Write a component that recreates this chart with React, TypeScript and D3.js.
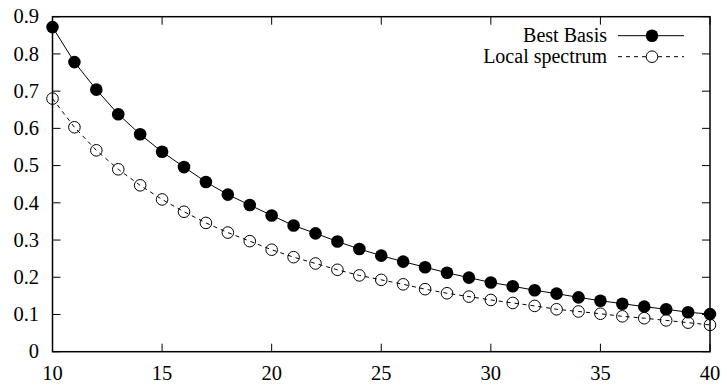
import React, { useRef, useEffect } from 'react';
import * as d3 from 'd3';

const xValues = [10, 11, 12, 13, 14, 15, 16, 17, 18, 19, 20, 21, 22, 23, 24, 25, 26, 27, 28, 29, 30, 31, 32, 33, 34, 35, 36, 37, 38, 39, 40];
const bestBasis = [0.872, 0.778, 0.704, 0.638, 0.584, 0.537, 0.496, 0.456, 0.422, 0.394, 0.366, 0.339, 0.318, 0.296, 0.276, 0.258, 0.242, 0.227, 0.212, 0.199, 0.186, 0.176, 0.165, 0.156, 0.146, 0.137, 0.129, 0.121, 0.114, 0.106, 0.101];
const localSpectrum = [0.680, 0.603, 0.541, 0.490, 0.447, 0.409, 0.376, 0.346, 0.320, 0.297, 0.274, 0.254, 0.237, 0.220, 0.205, 0.193, 0.181, 0.168, 0.157, 0.148, 0.139, 0.131, 0.123, 0.114, 0.108, 0.102, 0.095, 0.090, 0.084, 0.078, 0.072];
const xTicks = [10, 15, 20, 25, 30, 35, 40];
const yTicks = [0, 0.1, 0.2, 0.3, 0.4, 0.5, 0.6, 0.7, 0.8, 0.9];
const seriesNames = ['Best Basis', 'Local spectrum'];

const FONT = "'Liberation Serif', 'Times New Roman', serif";

const App: React.FC = () => {
    const svgRef = useRef<SVGSVGElement | null>(null);
    const width = 722;
    const height = 385;
    const margin = { top: 16.7, right: 12, bottom: 33.3, left: 52.5 };

    useEffect(() => {
        if (!svgRef.current) return;
        const svg = d3.select(svgRef.current);
        svg.selectAll('*').remove();

        const x = d3.scaleLinear().domain([10, 40]).range([margin.left, width - margin.right]);
        const y = d3.scaleLinear().domain([0, 0.9]).range([height - margin.bottom, margin.top]);
        const tick = 8;

        svg.append('rect').attr('width', width).attr('height', height).attr('fill', 'white');

        // ticks on all four sides, pointing inwards (gnuplot style)
        const tickG = svg.append('g').attr('stroke', 'black').attr('stroke-width', 1);
        xTicks.forEach(t => {
            tickG.append('line').attr('x1', x(t)).attr('x2', x(t)).attr('y1', y(0)).attr('y2', y(0) - tick);
            tickG.append('line').attr('x1', x(t)).attr('x2', x(t)).attr('y1', y(0.9)).attr('y2', y(0.9) + tick);
        });
        yTicks.forEach(t => {
            tickG.append('line').attr('x1', x(10)).attr('x2', x(10) + tick).attr('y1', y(t)).attr('y2', y(t));
            tickG.append('line').attr('x1', x(40)).attr('x2', x(40) - tick).attr('y1', y(t)).attr('y2', y(t));
        });

        // tick labels
        svg.append('g').selectAll('text').data(xTicks).join('text')
            .attr('x', d => x(d)).attr('y', height - 5)
            .attr('text-anchor', 'middle')
            .style('font-family', FONT).style('font-size', '20.5px')
            .text(d => d);
        svg.append('g').selectAll('text').data(yTicks).join('text')
            .attr('x', margin.left - 13.5).attr('y', d => y(d))
            .attr('dy', '0.33em')
            .attr('text-anchor', 'end')
            .style('font-family', FONT).style('font-size', '20.5px')
            .text(d => d === 0 ? '0' : d3.format('.1f')(d));

        const line = d3.line<number>().x((_, i) => x(xValues[i])).y(d => y(d));

        // Local spectrum: dashed line, open circles
        svg.append('path').datum(localSpectrum)
            .attr('d', line).attr('fill', 'none')
            .attr('stroke', 'black').attr('stroke-width', 1)
            .attr('stroke-dasharray', '4,4');
        svg.append('g').selectAll('circle').data(localSpectrum).join('circle')
            .attr('cx', (_, i) => x(xValues[i])).attr('cy', d => y(d))
            .attr('r', 5.8).attr('fill', 'none')
            .attr('stroke', 'black').attr('stroke-width', 1);

        // Best Basis: solid line, filled circles
        svg.append('path').datum(bestBasis)
            .attr('d', line).attr('fill', 'none')
            .attr('stroke', 'black').attr('stroke-width', 1);
        svg.append('g').selectAll('circle').data(bestBasis).join('circle')
            .attr('cx', (_, i) => x(xValues[i])).attr('cy', d => y(d))
            .attr('r', 6.3).attr('fill', 'black');

        // frame
        svg.append('rect')
            .attr('x', x(10)).attr('y', y(0.9))
            .attr('width', x(40) - x(10)).attr('height', y(0) - y(0.9))
            .attr('fill', 'none').attr('stroke', 'black').attr('stroke-width', 1.5);

        // legend
        const legend = svg.append('g');
        const rows = [35.7, 56.7];
        seriesNames.forEach((name, i) => {
            const ly = rows[i];
            legend.append('text')
                .attr('x', 607).attr('y', ly).attr('dy', '0.33em')
                .attr('text-anchor', 'end')
                .style('font-family', FONT).style('font-size', '20px')
                .text(name);
            legend.append('line')
                .attr('x1', 618).attr('x2', 684).attr('y1', ly).attr('y2', ly)
                .attr('stroke', 'black').attr('stroke-width', 1)
                .attr('stroke-dasharray', i === 1 ? '4,4' : null);
            const c = legend.append('circle').attr('cx', 652).attr('cy', ly);
            if (i === 0) c.attr('r', 6.3).attr('fill', 'black');
            else c.attr('r', 5.8).attr('fill', 'white').attr('stroke', 'black').attr('stroke-width', 1);
        });
    }, []);

    return (
        <svg ref={svgRef} width={width} height={height}
            style={{ position: 'absolute', left: 0, top: 0, display: 'block' }} />
    );
};

export default App;
